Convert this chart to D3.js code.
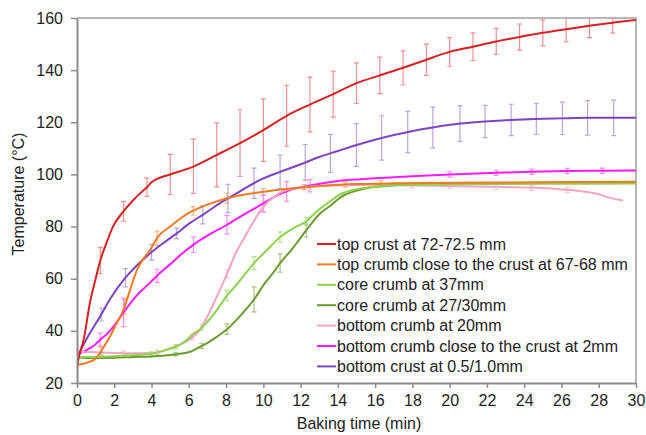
<!DOCTYPE html>
<html><head><meta charset="utf-8">
<script src="https://cdn.jsdelivr.net/npm/d3@7"></script>
<style>body{margin:0;background:#fff}svg{display:block}text{font-family:"Liberation Sans",Arial,sans-serif}</style>
</head><body><svg id="c" width="646" height="435"></svg>
<script>
// ---- data ----
const xTicks = [0,2,4,6,8,10,12,14,16,18,20,22,24,26,28,30];
const yTicks = [20,40,60,80,100,120,140,160];
const seriesNames = ["top crust at 72-72.5 mm","top crumb close to the crust at 67-68 mm","core crumb at 37mm","core crumb at 27/30mm","bottom crumb at 20mm","bottom crumb close to the crust at 2mm","bottom crust at 0.5/1.0mm"];
const seriesColors = ["#d42222","#f07a22","#8ed24e","#6a9a2c","#f5a3c4","#ff1aff","#7d44c2"];
const barColors = ["#f09090","#f5b57a","#b8e08e","#a9c27e","#f7c3d9","#ff8cff","#bca4de"];

const topCrust = [[0,25.5],[0.1,30],[0.34,36],[0.7,51],[1.0,60],[1.25,67],[1.6,74],[1.93,80],[2.47,85.6],[3.0,90],[3.5,93.5],[3.74,95],[4.0,97],[4.27,98.2],[5.0,100],[6.07,102.5],[7.5,107.5],[8.75,112],[10,117],[11.25,122.5],[12.5,126.8],[13.6,130.3],[15,135],[16.25,138],[17.5,140.9],[18.75,144],[20,147],[21.25,149],[22.5,151],[23.75,152.7],[25,154.3],[26.25,155.7],[27.5,157],[28.75,158.2],[30,159.2]];
const topCrumb = [[0,27],[0.4,27.5],[0.7,28.2],[0.9,28.8],[1.23,31.4],[1.45,34],[1.77,37.8],[2.1,42.5],[2.49,48],[2.85,55.7],[3.2,63],[3.55,67.5],[3.92,71],[4.37,76.3],[5.0,80],[5.53,83],[6.07,85.5],[6.96,88.3],[8.0,90.8],[9,92.3],[10.0,93.4],[11.6,94.7],[13.4,95.8],[15,96.3],[17,96.6],[20,96.8],[25,97],[30,97.2]];
const core37 = [[0,30],[1,30],[2,30.3],[3,30.6],[4.1,31.4],[4.7,32.5],[5.35,34],[5.8,36],[6.24,38.8],[6.6,40.5],[7.3,46],[8.05,53.5],[8.6,58],[9.5,66],[10.2,71],[10.9,76],[11.6,79.3],[12.3,82],[12.9,86],[13.6,89.8],[14.1,92.3],[15,94.3],[16.26,95.5],[18,96],[20,96.2],[25,96.4],[30,96.5]];
const core27 = [[0,29.8],[1,29.6],[2,29.7],[3,30],[4,30.2],[5,30.7],[5.6,31.3],[6.07,32],[6.5,33.5],[6.96,35.2],[7.5,37.7],[8.03,40.5],[8.6,44.5],[9.1,48.5],[9.55,52.5],[10.0,57.5],[10.5,62],[10.9,66],[11.5,71],[12.3,78.5],[13.04,85],[13.6,88],[14.2,91.5],[14.83,93.4],[15.6,94.8],[16.6,95.6],[18,96.2],[20,96.5],[25,96.8],[30,96.8]];
const bottom20 = [[0,32],[1,31.8],[2,31.5],[3,31.4],[4,31.5],[4.5,32],[5,33.3],[5.6,35],[6.1,37],[6.5,39.5],[7.0,45.5],[7.5,53.1],[8.0,61],[8.5,69.5],[9.0,76],[9.4,81],[10.0,87.6],[10.6,91.5],[11.25,94],[12.5,95.3],[14,95.8],[16,96],[18,95.8],[20,95.6],[22,95.3],[24,95],[25,94.8],[26.1,94.2],[27,93.6],[27.9,92.6],[28.6,91],[29.3,90]];
const bottom2 = [[0,30.5],[0.34,32],[0.7,33.4],[0.9,34.3],[1.23,36.5],[1.63,39],[1.95,41.6],[2.49,47],[3.2,53.5],[3.92,58.5],[4.5,62.5],[5.0,65.5],[5.53,69],[6.24,73],[7,76.5],[8.03,80.6],[9,84.8],[10.0,88.9],[10.7,91.8],[11.43,94],[12.7,96],[14.1,97.6],[16,98.5],[18,99.3],[20,100],[22.5,100.6],[24.3,101],[26.3,101.3],[28.2,101.4],[30,101.5]];
const bottomCrust = [[0,20],[0.02,30],[0.16,32],[0.6,38],[1.23,45.4],[1.8,52.5],[2.49,59.5],[3.2,65],[3.92,69.7],[4.6,73.5],[5.35,77.4],[6.07,81.4],[6.75,84.5],[7.68,89],[8.75,93.5],[9.82,97.9],[10.9,101],[11.97,103.8],[13.04,106.8],[14,109],[15,111.3],[16.35,114],[17.9,116.5],[19.1,118],[20.56,119.5],[21.9,120.3],[23.24,120.9],[24.6,121.3],[25.9,121.5],[27.5,121.7],[30,121.7]];

// error bars: times and half-widths
const topCrustBarT = [1.25,2.5,3.75,5,6.25,7.5,8.75,10,11.25,12.5,13.75,15,16.25,17.5,18.75,20,21.25,22.5,23.75,25,26.25,27.5,28.75];
const topCrustBarE = [5,3.8,3.5,7.7,10.4,12.3,12.8,12,11.7,10.5,8.8,7.8,7,6.5,6,5.5,5.3,5,5,5,4.8,4.5,4];
const topCrumbBarT = [1.3,2.55,4.3,6.24,8.05,10.0,12.2,14.4,16.3];
const topCrumbBarE = [1.5,2.8,2.8,1.6,2,1.2,1,1,1];
const core37BarT = [1.3,2.6,4.0,5.3,6.7,8.05,9.5,10.9,12.3];
const core37BarE = [0.6,0.6,0.6,0.8,1,2,2.5,2,1.5];
const core27BarT = [5.3,6.7,8.05,9.5,10.9,12.3];
const core27BarE = [0.6,1,2,4.8,3.5,2.5];
const bottom20BarT = [2.5,4.3,6.2,8.05,10,18,20,22.5,24.4,26.3];
const bottom20BarE = [0.8,0.8,1,1.5,2.2,1,1,1,1,1];
const bottom2BarT = [1.25,2.5,4.3,6.25,8.05,10,11.25,12.5,20,22.5,24.4,26.3,28.2];
const bottom2BarE = [2.5,5.5,2.5,3,3.6,3.2,3.8,2.4,1,1,1,1,1];
const bottomCrustBarT = [1.3,2.6,4.0,5.35,6.75,8.1,9.5,10.9,12.25,13.6,15.0,16.35,17.75,19.1,20.55,21.9,23.3,24.65,26.05,27.4,28.8];
const bottomCrustBarE = [2.5,3.5,3,2,3.5,5.4,5.8,6.4,6.9,7.3,8.2,8.5,8,7.8,6.8,6.2,6,6,6.2,6.6,6.8];

const seriesData = [topCrust,topCrumb,core37,core27,bottom20,bottom2,bottomCrust];
const barT = [topCrustBarT,topCrumbBarT,core37BarT,core27BarT,bottom20BarT,bottom2BarT,bottomCrustBarT];
const barE = [topCrustBarE,topCrumbBarE,core37BarE,core27BarE,bottom20BarE,bottom2BarE,bottomCrustBarE];

// ---- chart ----
const FS = 16;
const svg = d3.select("#c");
const L=77,R=636,T=18,B=383;
const x = d3.scaleLinear().domain([0,30]).range([L,R]);
const y = d3.scaleLinear().domain([20,160]).range([B,T]);

svg.append("defs").append("clipPath").attr("id","clip").append("rect")
  .attr("x",L).attr("y",T).attr("width",R-L).attr("height",B-T);

// border top/right
svg.append("path").attr("d",`M${L},${T}H${R}V${B}`).attr("fill","none").attr("stroke","#a0a0a0").attr("stroke-width",1.5);

function interp(data,t){
  for(let i=1;i<data.length;i++){
    if(t<=data[i][0]){const a=data[i-1],b=data[i];return a[1]+(b[1]-a[1])*(t-a[0])/(b[0]-a[0]);}
  }
  return data[data.length-1][1];
}

const g = svg.append("g").attr("clip-path","url(#clip)");
// error bars
seriesData.forEach((d,i)=>{
  const bars = barT[i].map((t,k)=>({t, m:interp(d,t), e:barE[i][k]}));
  const bg = g.append("g").attr("stroke",barColors[i]).attr("stroke-width",1.2).attr("fill","none");
  bars.forEach(b=>{
    const cx=x(b.t), y1=y(b.m+b.e), y2=y(b.m-b.e);
    bg.append("path").attr("d",`M${cx},${y1}V${y2}M${cx-2.5},${y1}H${cx+2.5}M${cx-2.5},${y2}H${cx+2.5}`);
  });
});
// lines
const line = d3.line().x(d=>x(d[0])).y(d=>y(d[1])).curve(d3.curveMonotoneX);
[6,5,4,3,2,1,0].forEach(i=>{
  g.append("path").datum(seriesData[i]).attr("d",line).attr("fill","none")
   .attr("stroke",seriesColors[i]).attr("stroke-width",2).attr("stroke-linejoin","round");
});

// axes
const xa = svg.append("g").attr("transform",`translate(0,${B})`)
  .call(d3.axisBottom(x).tickValues(xTicks).tickSize(5).tickPadding(7).tickSizeOuter(0));
const ya = svg.append("g").attr("transform",`translate(${L},0)`)
  .call(d3.axisLeft(y).tickValues(yTicks).tickSize(6).tickPadding(8).tickSizeOuter(0));
[xa,ya].forEach(a=>{
  a.select(".domain").attr("stroke","#8c8c8c").attr("stroke-width",2);
  a.selectAll(".tick line").attr("stroke","#8c8c8c").attr("stroke-width",1.5);
  a.selectAll(".tick text").attr("font-size",FS).attr("fill","#222").attr("font-family","'Liberation Sans',Arial,sans-serif");
});

// titles
svg.append("text").attr("x",359).attr("y",429).attr("text-anchor","middle").attr("font-size",FS).attr("fill","#222").text("Baking time (min)");
svg.append("text").attr("transform","translate(24,194) rotate(-90)").attr("text-anchor","middle").attr("font-size",FS).attr("fill","#222").text("Temperature (°C)");

// legend
const lg = svg.append("g");
seriesNames.forEach((n,i)=>{
  const yy = 244 + i*20.4;
  lg.append("line").attr("x1",317).attr("x2",336).attr("y1",yy).attr("y2",yy).attr("stroke",seriesColors[i]).attr("stroke-width",2);
  lg.append("text").attr("x",337).attr("y",yy).attr("dy","0.35em").attr("font-size",FS).attr("fill","#222").text(n);
});
</script></body></html>
